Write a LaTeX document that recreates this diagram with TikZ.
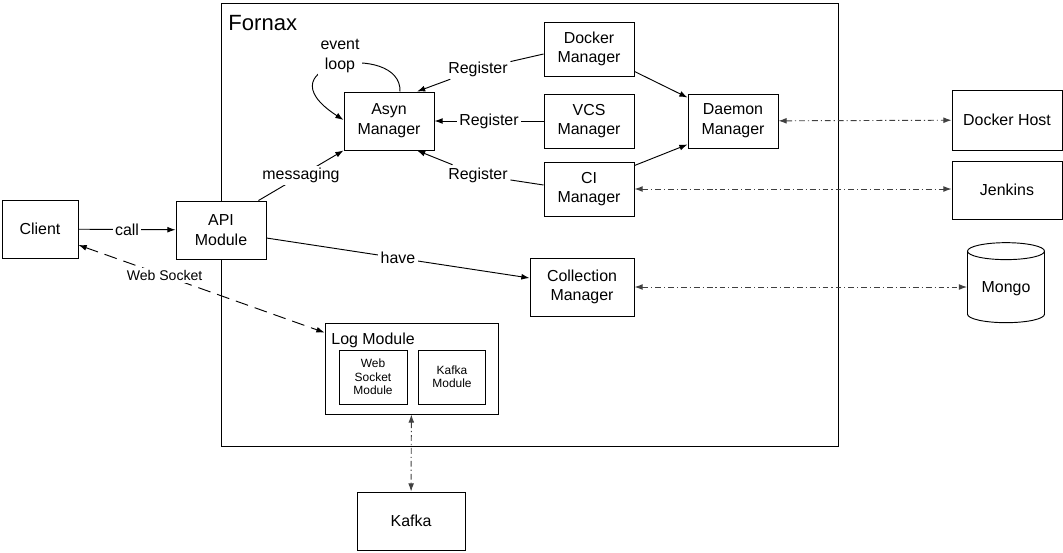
\documentclass[tikz,border=0pt]{standalone}
\usepackage{fontspec}
\setmainfont{Liberation Sans}
\usetikzlibrary{shapes.geometric,arrows.meta}
\newcommand{\boxfont}{\fontsize{13.6}{16.8}\selectfont}
\newcommand{\tinyfont}{\fontsize{10.2}{11.4}\selectfont}
\newcommand{\wsfont}{\fontsize{12}{14}\selectfont}
\tikzset{
  box/.style={draw,fill=white,align=center,inner sep=1pt,minimum width=2.7cm,minimum height=1.74cm,font=\boxfont},
  inbox/.style={draw,fill=white,align=center,inner sep=1pt,minimum width=2.04cm,minimum height=1.62cm,font=\tinyfont},
  lbl/.style={fill=white,inner sep=2pt,font=\boxfont},
  ext/.style={black!75,dash pattern=on 5pt off 2.5pt on 1pt off 2.5pt},
  ws/.style={dash pattern=on 11pt off 6pt}
}
\begin{document}
\begin{tikzpicture}[x=0.03cm,y=-0.03cm,>={Latex[length=7pt,width=5pt]},line width=0.8pt]
\useasboundingbox (0,0) rectangle (1063,552);
% Fornax frame
\node[draw,minimum width=18.51cm,minimum height=13.29cm] (fornax) at (529.5,224.5) {};
\node[anchor=base west,inner sep=0,font=\fontsize{18.8}{22}\selectfont] at (228,30) {Fornax};
% outside
\node[box,minimum width=2.28cm] (client) at (40,229) {Client};
\node[box,minimum width=3.3cm,minimum height=1.8cm] (dhost) at (1007,120) {Docker Host};
\node[box,minimum width=3.3cm] (jenkins) at (1007,190) {Jenkins};
\node[draw,fill=white,cylinder,shape border rotate=90,aspect=0.3,minimum width=2.31cm,minimum height=2.4cm,font=\boxfont] (mongo) at (1006,289) {Mongo};
\node[box,minimum width=3.24cm] (kafka) at (411,521) {Kafka};
% inside
\node[box] (api) at (221,230) {API\\Module};
\node[box] (asyn) at (389,121) {Asyn\\Manager};
\node[box,minimum height=1.62cm] (docker) at (589,49) {Docker\\Manager};
\node[box,minimum height=1.62cm] (vcs) at (589,121) {VCS\\Manager};
\node[box,minimum height=1.62cm] (ci) at (589,189) {CI\\Manager};
\node[box,minimum height=1.62cm] (daemon) at (733,121) {Daemon\\Manager};
\node[box,minimum width=3.12cm] (coll) at (582,287) {Collection\\Manager};
% log module
\node[draw,fill=white,minimum width=5.19cm,minimum height=2.73cm] (logm) at (411.5,368.5) {};
\node[anchor=base west,inner sep=0,font=\boxfont] at (331,344) {Log Module};
\node[inbox] (wsm) at (373,377) {Web\\Socket\\Module};
\node[inbox,minimum width=2.01cm] (kfm) at (452,377) {Kafka\\Module};
% connectors
\draw[->] (client) -- node[lbl]{call} (api);
\draw[->] ([xshift=-0.24cm]api.north east) -- node[lbl]{messaging} (asyn.south west);
\draw[->] ([xshift=0.33cm]asyn.north) .. controls +(2,-51) and +(-88,-57) .. ([yshift=0.03cm]asyn.west);
\node[lbl,align=center] (evloop) at (340,56) {event\\loop};
\node[lbl] (regd) at (478,69) {Register};
\draw ([yshift=-0.15cm]docker.west) -- (regd);
\draw[->] (regd) -- ([xshift=0.84cm]asyn.north);
\draw[->] (vcs) -- node[lbl]{Register} (asyn);
\node[lbl] (regc) at (478,175) {Register};
\draw ([yshift=0.12cm]ci.west) -- (regc);
\draw[->] (regc) -- ([xshift=0.84cm]asyn.south);
\draw[->] ([yshift=0.15cm]docker.south east) -- ([yshift=-0.12cm]daemon.north west);
\draw[->] ([yshift=-0.12cm]ci.north east) -- ([yshift=0.12cm]daemon.south west);
\draw[->] ([yshift=-0.24cm]api.east) -- node[lbl]{have} ([yshift=0.27cm]coll.west);
\draw[ws,<->] ([yshift=-0.48cm]client.east) -- node[lbl,pos=0.35,font=\wsfont]{Web Socket} ([yshift=-0.3cm]logm.north west);
\draw[ext,<->] (daemon) -- (dhost);
\draw[ext,<->] (ci.east) -- (ci.east -| jenkins.west);
\draw[ext,<->] (coll.east) -- (coll.east -| mongo.west);
\draw[ext,<->] (logm) -- (kafka);
\end{tikzpicture}
\end{document}
